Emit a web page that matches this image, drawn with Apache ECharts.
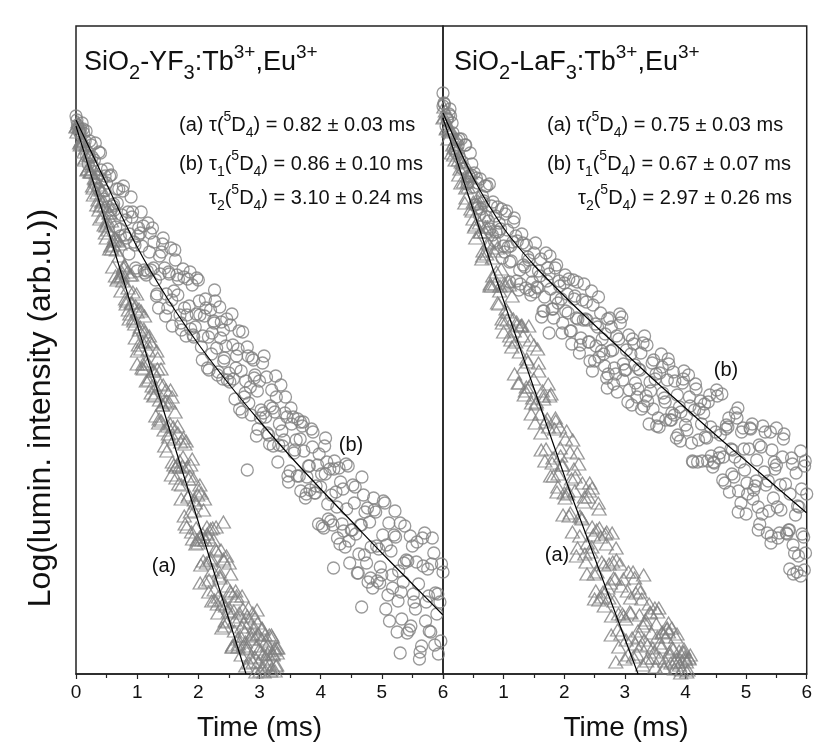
<!DOCTYPE html>
<html>
<head>
<meta charset="utf-8">
<script src="https://cdn.jsdelivr.net/npm/echarts@6/dist/echarts.min.js"></script>
<style>
html,body{margin:0;padding:0;background:#fff;}
#chart{width:815px;height:747px;}
</style>
</head>
<body>
<div id="chart"></div>
<script>
// ---------- DATA (time in ms, log10 luminescence intensity, arb. units) ----------
const xTicks = [0, 1, 2, 3, 4, 5, 6];

// Left panel: SiO2-YF3:Tb3+,Eu3+  — (b) circles
const leftB = [
[0,5.58],[0.05,5.43],[0.1,5.51],[0.15,5.33],[0.2,5.10],[0.25,5.29],[0.3,5.14],[0.35,4.97],[0.4,5.21],[0.45,4.75],
[0.5,4.91],[0.55,4.98],[0.6,4.68],[0.65,4.47],[0.7,4.85],[0.75,4.59],[0.8,4.39],[0.85,4.62],[0.9,4.77],[0.95,4.32],
[1,4.03],[1.05,4.41],[1.1,4.48],[1.15,3.99],[1.2,4.22],[1.25,4.46],[1.3,3.94],[1.35,3.66],[1.4,4.22],[1.45,4.06],
[1.5,3.66],[1.55,4.26],[1.6,3.83],[1.65,3.99],[1.7,3.59],[1.75,4.05],[1.8,3.38],[1.85,3.68],[1.9,3.89],[1.95,3.47],
[2,3.94],[2.05,3.27],[2.1,3.58],[2.15,3.06],[2.2,3.64],[2.25,3.53],[2.3,3.26],[2.35,3.67],[2.4,2.95],[2.45,3.28],
[2.5,3.01],[2.55,3.60],[2.6,2.75],[2.65,3.25],[2.7,3.03],[2.75,2.77],[2.8,3.27],[2.85,2.87],[2.9,3.14],[2.95,2.38],
[3,2.93],[3.05,3.11],[3.1,2.57],[3.15,2.39],[3.2,2.84],[3.25,2.62],[3.3,2.12],[3.35,2.89],[3.4,2.34],[3.45,2.57],
[3.5,2.03],[3.55,2.57],[3.6,2.34],[3.65,1.98],[3.7,2.48],[3.75,1.76],[3.8,2.08],[3.85,2.45],[3.9,1.81],[3.95,2.09],
[4,1.87],[4.05,1.46],[4.1,2.12],[4.15,2.05],[4.2,1.49],[4.25,1.82],[4.3,2.06],[4.35,1.50],[4.4,1.27],[4.45,2.08],
[4.5,1.44],[4.55,1.71],[4.6,1.01],[4.65,1.49],[4.7,1.79],[4.75,1.11],[4.8,1.52],[4.85,0.86],[4.9,1.62],[4.95,1.25],
[5,0.99],[5.05,1.71],[5.1,0.79],[5.15,1.23],[5.2,1.39],[5.25,0.42],[5.3,1.51],[5.35,0.92],[5.4,1.14],[5.45,0.44],
[5.5,1.28],[5.55,0.65],[5.6,0.90],[5.65,0.28],[5.7,1.41],[5.75,1.05],[5.8,0.42],[5.85,1.21],[5.9,0.60],[5.95,0.72],
[6,1.02],
[0.025,5.49],[0.075,5.45],[0.125,5.41],[0.175,5.18],[0.225,5.33],[0.275,5.08],[0.325,4.89],[0.375,5.22],[0.425,4.94],[0.475,4.98],
[0.525,4.67],[0.575,4.99],[0.625,4.64],[0.675,4.71],[0.725,4.38],[0.775,4.88],[0.825,4.36],[0.875,4.40],[0.925,4.62],[0.975,4.06],
[1.025,4.46],[1.075,4.28],[1.125,4.01],[1.175,4.51],[1.225,4.04],[1.275,4.32],[1.325,3.80],[1.375,4.00],[1.425,4.36],[1.475,3.80],
[1.525,4.00],[1.575,3.48],[1.625,4.14],[1.675,3.95],[1.725,3.44],[1.775,3.66],[1.825,3.95],[1.875,3.45],[1.925,3.37],[1.975,3.96],
[2.025,3.59],[2.075,3.38],[2.125,3.66],[2.175,3.04],[2.225,3.41],[2.275,3.73],[2.325,3.02],[2.375,3.52],[2.425,3.16],[2.475,2.94],
[2.525,3.49],[2.575,2.95],[2.625,3.18],[2.675,2.65],[2.725,3.42],[2.775,2.93],[2.825,2.71],[2.875,3.16],[2.925,2.99],[2.975,2.45],
[3.025,2.64],[3.075,3.18],[3.125,2.41],[3.175,2.68],[3.225,2.28],[3.275,2.77],[3.325,2.50],[3.375,2.28],[3.425,2.77],[3.475,1.92],
[3.525,2.50],[3.575,2.24],[3.625,2.55],[3.675,1.83],[3.725,2.23],[3.775,1.97],[3.825,1.84],[3.875,2.42],[3.925,1.88],[3.975,2.20],
[4.025,1.48],[4.075,2.00],[4.125,1.55],[4.175,1.79],[4.225,2.13],[4.275,1.36],[4.325,1.92],[4.375,1.43],[4.425,1.65],[4.475,1.11],
[4.525,1.89],[4.575,1.40],[4.625,1.20],[4.675,1.97],[4.725,1.62],[4.775,0.92],[4.825,1.27],[4.875,1.64],[4.925,0.93],[4.975,1.07],
[5.025,1.73],[5.075,1.29],[5.125,0.53],[5.175,0.86],[5.225,1.37],[5.275,1.03],[5.325,0.55],[5.375,1.48],[5.425,1.13],[5.475,0.48],
[5.525,0.72],[5.575,1.32],[5.625,0.22],[5.675,1.08],[5.725,0.72],[5.775,0.43],[5.825,1.36],[5.875,0.81],[5.925,0.20],[5.975,1.10],
[0.015,5.54],[0.065,5.41],[0.115,5.45],[0.165,5.43],[0.215,5.17],[0.265,5.17],[0.315,5.31],[0.365,4.85],[0.415,5.04],[0.465,4.83],
[0.515,5.05],[0.565,4.64],[0.615,4.70],[0.665,4.85],[0.715,4.45],[0.765,4.83],[0.815,4.54],[0.865,4.20],[0.915,4.57],[0.965,4.29],
[1.015,4.38],[1.065,4.62],[1.115,4.04],[1.165,4.03],[1.215,4.41],[1.265,4.06],[1.315,3.78],[1.365,4.18],[1.415,4.30],[1.465,3.58],
[1.515,4.02],[1.565,3.74],[1.615,4.24],[1.665,3.79],[1.715,3.51],[1.765,3.97],[1.815,3.59],[1.865,4.02],[1.915,3.39],[1.965,3.60],
[2.015,3.73],[2.065,3.14],[2.115,3.75],[2.165,3.37],[2.215,3.20],[2.265,3.84],[2.315,2.99],[2.365,3.36],[2.415,3.13],[2.465,3.55],
[2.515,2.92],[2.565,3.29],[2.615,3.06],[2.665,3.43],[2.715,2.62],[2.765,2.81],[2.815,3.18],[2.865,2.59],[2.915,2.96],[2.965,2.83],
[3.015,2.56],[3.065,2.61],[3.115,2.97],[3.165,2.30],[3.215,2.66],[3.265,2.98],[3.315,2.29],[3.365,2.43],[3.415,2.61],[3.465,1.98],
[3.515,2.66],[3.565,2.21],[3.615,1.98],[3.665,2.35],[3.715,2.52],[3.765,1.80],[3.815,2.08],[3.865,2.27],[3.915,1.81],[3.965,1.50],
[4.015,2.00],[4.065,2.28],[4.115,1.70],[4.165,1.53],[4.215,2.05],[4.265,1.67],[4.315,1.30],[4.365,1.85],[4.415,2.10],[4.465,1.33],
[4.515,1.44],[4.565,1.87],[4.615,1.01],[4.665,1.49],[4.715,1.19],[4.765,1.66],[4.815,0.96],[4.865,1.76],[4.915,1.28],[4.965,0.91],
[5.015,1.39],[5.065,0.65],[5.115,1.51],[5.165,0.99],[5.215,1.63],[5.265,0.73],[5.315,0.82],[5.365,1.11],[5.415,0.41],[5.465,1.38],
[5.515,0.80],[5.565,1.12],[5.615,0.15],[5.665,1.36],[5.715,0.53],[5.765,0.78],[5.815,1.10],[5.865,0.29],[5.915,0.80],[5.965,0.33],
[2.26,3.51],[2.41,3.44],[2.80,2.04],[3.67,2.52],[4.08,2.36],[4.21,1.06],[4.67,0.67],[5.30,0.21]
];

// Left panel — (a) triangles
const leftA = [
[0,5.47],[0.03,5.52],[0.06,5.31],[0.09,5.34],[0.12,5.33],[0.15,5.16],[0.18,5.04],[0.21,5.18],[0.24,5.02],[0.27,4.88],
[0.3,4.96],[0.33,5.01],[0.36,4.74],[0.39,4.55],[0.42,4.72],[0.45,4.73],[0.48,4.41],[0.51,4.51],[0.54,4.61],[0.57,4.28],
[0.6,4.07],[0.63,4.37],[0.66,4.24],[0.69,3.96],[0.72,4.30],[0.75,3.98],[0.78,4.06],[0.81,3.75],[0.84,4.02],[0.87,3.55],
[0.9,3.71],[0.93,3.82],[0.96,3.50],[0.99,3.80],[1.02,3.29],[1.05,3.47],[1.08,3.06],[1.11,3.45],[1.14,3.33],[1.17,3.10],
[1.2,3.38],[1.23,2.81],[1.26,3.03],[1.29,2.79],[1.32,3.23],[1.35,2.51],[1.38,2.90],[1.41,2.69],[1.44,2.44],[1.47,2.84],
[1.5,2.48],[1.53,2.71],[1.56,1.99],[1.59,2.47],[1.62,2.62],[1.65,2.09],[1.68,1.90],[1.71,2.32],[1.74,2.08],[1.77,1.58],
[1.8,2.33],[1.83,1.77],[1.86,1.98],[1.89,1.42],[1.92,1.95],[1.95,1.71],[1.98,1.34],[2.01,1.83],[2.04,1.09],[2.07,1.40],
[2.1,1.75],[2.13,1.11],[2.16,1.37],[2.19,1.14],[2.22,0.73],[2.25,1.34],[2.28,1.25],[2.31,0.70],[2.34,1.02],[2.37,1.24],
[2.4,0.70],[2.43,0.48],[2.46,1.18],[2.49,0.62],[2.52,0.83],[2.55,0.27],[2.58,0.63],[2.61,0.83],[2.64,0.35],[2.67,0.61],
[2.7,0.19],[2.73,0.65],[2.76,0.42],[2.79,0.26],[2.82,0.66],[2.85,0.16],[2.88,0.40],[2.91,0.47],[2.94,0.02],[2.97,0.51],
[3,0.25],[3.03,0.35],[3.06,0.07],[3.09,0.39],[3.12,0.15],[3.15,0.23],[3.18,0.03],[3.21,0.37],[3.24,0.24],[3.27,0.08],
[3.3,0.26],
[0.015,5.42],[0.045,5.47],[0.075,5.32],[0.105,5.30],[0.135,5.14],[0.165,5.29],[0.195,5.05],[0.225,5.02],[0.255,5.08],[0.285,4.79],
[0.315,4.93],[0.345,4.81],[0.375,4.64],[0.405,4.84],[0.435,4.57],[0.465,4.68],[0.495,4.36],[0.525,4.44],[0.555,4.61],[0.585,4.25],
[0.615,4.33],[0.645,3.98],[0.675,4.34],[0.705,4.18],[0.735,3.83],[0.765,3.93],[0.795,4.08],[0.825,3.73],[0.855,3.64],[0.885,3.99],
[0.915,3.71],[0.945,3.53],[0.975,3.68],[1.005,3.23],[1.035,3.44],[1.065,3.63],[1.095,3.10],[1.125,3.42],[1.155,3.13],[1.185,2.94],
[1.215,3.32],[1.245,2.88],[1.275,3.03],[1.305,2.58],[1.335,3.16],[1.365,2.74],[1.395,2.53],[1.425,2.89],[1.455,2.72],[1.485,2.23],
[1.515,2.37],[1.545,2.84],[1.575,2.12],[1.605,2.35],[1.635,1.96],[1.665,2.41],[1.695,2.13],[1.725,1.89],[1.755,2.36],[1.785,1.50],
[1.815,2.07],[1.845,1.79],[1.875,2.09],[1.905,1.35],[1.935,1.74],[1.965,1.46],[1.995,1.31],[2.025,1.89],[2.055,1.34],[2.085,1.64],
[2.115,0.92],[2.145,1.40],[2.175,0.94],[2.205,1.16],[2.235,1.46],[2.265,0.74],[2.295,1.23],[2.325,0.77],[2.355,0.96],[2.385,0.46],
[2.415,1.13],[2.445,0.68],[2.475,0.52],[2.505,1.11],[2.535,0.81],[2.565,0.29],[2.595,0.54],[2.625,0.78],[2.655,0.30],[2.685,0.38],
[2.715,0.78],[2.745,0.51],[2.775,0.08],[2.805,0.25],[2.835,0.52],[2.865,0.35],[2.895,0.12],[2.925,0.56],[2.955,0.39],[2.985,0.12],
[3.015,0.22],[3.045,0.45],[3.075,0.02],[3.105,0.33],[3.135,0.20],[3.165,0.10],[3.195,0.39],[3.225,0.20],[3.255,0.03],[3.285,0.26],
[0.01,5.48],[0.04,5.50],[0.07,5.29],[0.10,5.33],[0.13,5.22],[0.16,5.26],[0.19,5.05],[0.22,5.19],[0.25,5.02],[0.28,4.86],
[0.31,4.95],[0.34,4.69],[0.37,4.89],[0.40,4.68],[0.43,4.84],[0.46,4.49],[0.49,4.48],[0.52,4.53],[0.55,4.25],[0.58,4.53],
[0.61,4.29],[0.64,4.35],[0.67,3.94],[0.70,4.33],[0.73,3.97],[0.76,4.01],[0.79,4.09],[0.82,3.70],[0.85,3.86],[0.88,3.60],
[0.91,3.99],[0.94,3.56],[0.97,3.36],[1.00,3.62],[1.03,3.65],[1.06,3.25],[1.09,3.32],[1.12,3.58],[1.15,2.93],[1.18,3.24],
[1.21,2.97],[1.24,3.30],[1.27,2.78],[1.30,2.86],[1.33,3.05],[1.36,2.55],[1.39,3.05],[1.42,2.69],[1.45,2.28],[1.48,2.73],
[1.51,2.40],[1.54,2.50],[1.57,2.77],[1.60,2.09],[1.63,2.07],[1.66,2.48],[1.69,2.07],[1.72,1.75],[1.75,2.17],[1.78,2.30],
[1.81,1.47],[1.84,1.95],[1.87,1.62],[1.90,2.15],[1.93,1.63],[1.96,1.30],[1.99,1.79],[2.02,1.37],[2.05,1.81],[2.08,1.13],
[2.11,1.34],[2.14,1.47],[2.17,0.82],[2.20,1.45],[2.23,1.04],[2.26,0.84],[2.29,1.47],[2.32,0.61],[2.35,0.98],[2.38,0.74],
[2.41,1.15],[2.44,0.53],[2.47,0.88],[2.50,0.66],[2.53,1.00],[2.56,0.27],[2.59,0.43],[2.62,0.75],[2.65,0.27],[2.68,0.57],
[2.71,0.47],[2.74,0.28],[2.77,0.32],[2.80,0.58],[2.83,0.11],[2.86,0.38],[2.89,0.61],[2.92,0.17],[2.95,0.28],[2.98,0.40],
[3.01,0.03],[3.04,0.46],[3.07,0.20],[3.10,0.09],[3.13,0.29],[3.16,0.39],[3.19,0.05],[3.22,0.19],[3.25,0.26],[3.28,0.09],
[1.00,3.10],[1.10,3.05],[2.03,0.91],[2.96,0.64],[3.29,0.21],[2.41,1.52]
];

// Right panel: SiO2-LaF3:Tb3+,Eu3+ — (b) circles
const rightB = [
[0,5.68],[0.05,5.48],[0.1,5.60],[0.15,5.51],[0.2,5.23],[0.25,5.29],[0.3,5.35],[0.35,5.06],[0.4,4.90],[0.45,5.21],
[0.5,4.87],[0.55,4.96],[0.6,4.59],[0.65,4.78],[0.7,4.88],[0.75,4.53],[0.8,4.68],[0.85,4.33],[0.9,4.67],[0.95,4.45],
[1,4.28],[1.05,4.63],[1.1,4.12],[1.15,4.32],[1.2,4.38],[1.25,3.84],[1.3,4.40],[1.35,4.07],[1.4,4.17],[1.45,3.79],
[1.5,4.21],[1.55,3.87],[1.6,3.98],[1.65,3.63],[1.7,4.21],[1.75,4.00],[1.8,3.65],[1.85,4.06],[1.9,3.71],[1.95,3.75],
[2,3.91],[2.05,3.80],[2.1,3.43],[2.15,3.94],[2.2,3.56],[2.25,3.21],[2.3,3.74],[2.35,3.55],[2.4,3.32],[2.45,3.83],
[2.5,3.13],[2.55,3.47],[2.6,3.61],[2.65,3.20],[2.7,2.96],[2.75,3.56],[2.8,3.24],[2.85,3.00],[2.9,3.35],[2.95,3.57],
[3,3.04],[3.05,2.72],[3.1,3.20],[3.15,3.30],[3.2,2.77],[3.25,3.04],[3.3,3.31],[3.35,2.78],[3.4,2.50],[3.45,3.11],
[3.5,2.95],[3.55,2.56],[3.6,3.20],[3.65,2.76],[3.7,2.94],[3.75,2.54],[3.8,3.02],[3.85,2.36],[3.9,2.67],[3.95,2.91],
[4,2.49],[4.05,2.99],[4.1,2.31],[4.15,2.64],[4.2,2.12],[4.25,2.73],[4.3,2.61],[4.35,2.36],[4.4,2.79],[4.45,2.07],
[4.5,2.42],[4.55,2.16],[4.6,2.80],[4.65,1.91],[4.7,2.47],[4.75,2.25],[4.8,1.97],[4.85,2.56],[4.9,2.12],[4.95,2.46],
[5,1.60],[5.05,2.25],[5.1,2.50],[5.15,1.88],[5.2,1.67],[5.25,2.27],[5.3,2.02],[5.35,1.41],[5.4,2.42],[5.45,1.76],
[5.5,2.09],[5.55,1.41],[5.6,2.17],[5.65,1.90],[5.7,1.44],[5.75,2.16],[5.8,1.21],[5.85,1.68],[5.9,2.23],[5.95,1.37],
[6,1.80],
[0.025,5.70],[0.075,5.55],[0.125,5.58],[0.175,5.25],[0.225,5.34],[0.275,5.16],[0.325,5.05],[0.375,5.29],[0.425,4.98],[0.475,5.10],
[0.525,4.69],[0.575,4.91],[0.625,4.65],[0.675,4.73],[0.725,4.88],[0.775,4.45],[0.825,4.72],[0.875,4.42],[0.925,4.51],[0.975,4.16],
[1.025,4.60],[1.075,4.27],[1.125,4.13],[1.175,4.56],[1.225,4.33],[1.275,3.90],[1.325,4.09],[1.375,4.29],[1.425,3.84],[1.475,3.92],
[1.525,4.31],[1.575,4.03],[1.625,3.57],[1.675,3.77],[1.725,4.06],[1.775,3.85],[1.825,3.56],[1.875,4.09],[1.925,3.88],[1.975,3.51],
[2.025,3.63],[2.075,3.95],[2.125,3.30],[2.175,3.78],[2.225,3.55],[2.275,3.36],[2.325,3.90],[2.375,3.54],[2.425,3.13],[2.475,3.69],
[2.525,3.28],[2.575,3.17],[2.625,3.35],[2.675,3.40],[2.725,3.00],[2.775,3.47],[2.825,3.06],[2.875,2.82],[2.925,3.51],[2.975,3.10],
[3.025,3.24],[3.075,2.84],[3.125,3.35],[3.175,2.91],[3.225,3.05],[3.275,2.65],[3.325,3.38],[3.375,2.73],[3.425,2.83],[3.475,3.14],
[3.525,2.48],[3.575,3.01],[3.625,2.81],[3.675,2.54],[3.725,3.10],[3.775,2.61],[3.825,2.93],[3.875,2.39],[3.925,2.62],[3.975,3.03],
[4.025,2.44],[4.075,2.68],[4.125,2.12],[4.175,2.85],[4.225,2.65],[4.275,2.13],[4.325,2.37],[4.375,2.72],[4.425,2.18],[4.475,2.11],
[4.525,2.78],[4.575,2.39],[4.625,2.17],[4.675,2.49],[4.725,1.82],[4.775,2.24],[4.825,2.61],[4.875,1.83],[4.925,2.42],[4.975,2.04],
[5.025,1.80],[5.075,2.45],[5.125,1.84],[5.175,2.14],[5.225,1.50],[5.275,2.48],[5.325,1.89],[5.375,1.63],[5.425,2.24],[5.475,2.05],
[5.525,1.36],[5.575,1.64],[5.625,2.40],[5.675,1.40],[5.725,1.80],[5.775,1.29],[5.825,2.01],[5.875,1.67],[5.925,1.40],[5.975,2.13],
[0.015,5.71],[0.065,5.55],[0.115,5.65],[0.165,5.41],[0.215,5.21],[0.265,5.35],[0.315,5.12],[0.365,5.29],[0.415,4.92],[0.465,4.99],
[0.515,5.01],[0.565,4.66],[0.615,4.95],[0.665,4.71],[0.715,4.57],[0.765,4.90],[0.815,4.39],[0.865,4.58],[0.915,4.42],[0.965,4.65],
[1.015,4.22],[1.065,4.44],[1.115,4.28],[1.165,4.52],[1.215,3.93],[1.265,4.04],[1.315,4.31],[1.365,3.86],[1.415,4.14],[1.465,4.03],
[1.515,3.82],[1.565,3.86],[1.615,4.15],[1.665,3.63],[1.715,3.93],[1.765,4.18],[1.815,3.65],[1.865,3.76],[1.915,3.93],[1.965,3.41],
[2.015,3.99],[2.065,3.61],[2.115,3.43],[2.165,3.75],[2.215,3.92],[2.265,3.29],[2.315,3.54],[2.365,3.72],[2.415,3.32],[2.465,3.03],
[2.515,3.50],[2.565,3.77],[2.615,3.23],[2.665,3.08],[2.715,3.55],[2.765,3.23],[2.815,2.90],[2.865,3.38],[2.915,3.60],[2.965,2.94],
[3.015,3.04],[3.065,3.39],[3.115,2.69],[3.165,3.09],[3.215,2.85],[3.265,3.21],[3.315,2.68],[3.365,3.29],[3.415,2.92],[3.465,2.65],
[3.515,3.00],[3.565,2.47],[3.615,3.07],[3.665,2.72],[3.715,3.15],[3.765,2.54],[3.815,2.59],[3.865,2.79],[3.915,2.33],[3.965,2.95],
[4.015,2.58],[4.065,2.77],[4.115,2.13],[4.165,2.90],[4.215,2.34],[4.265,2.50],[4.315,2.70],[4.365,2.13],[4.415,2.47],[4.465,2.12],
[4.515,2.84],[4.565,2.21],[4.615,1.94],[4.665,2.45],[4.715,2.56],[4.765,2.00],[4.815,2.17],[4.865,2.66],[4.915,1.71],[4.965,2.25],
[5.015,1.91],[5.065,2.46],[5.115,1.75],[5.165,1.93],[5.215,2.29],[5.265,1.60],[5.315,2.42],[5.365,1.93],[5.415,1.38],[5.465,2.12],
[5.515,1.67],[5.565,1.89],[5.615,2.35],[5.665,1.41],[5.715,1.44],[5.765,2.10],[5.815,1.59],[5.865,1.18],[5.915,1.85],[5.965,2.08],
[0,5.81],[1.10,3.92],[1.75,3.41],[2.71,2.86],[4.87,1.62],[5.50,2.46],[5.20,1.44],[5.41,1.31],
[5.72,1.05],[5.78,1.00],[5.84,1.02],[5.90,0.98],[5.96,1.04],[5.98,1.21]
];

// Right panel — (a) triangles
const rightA = [
[0,5.56],[0.04,5.63],[0.08,5.35],[0.12,5.42],[0.16,5.29],[0.2,5.14],[0.24,5.26],[0.28,5.05],[0.32,5.11],[0.36,4.71],
[0.4,4.92],[0.44,4.98],[0.48,4.63],[0.52,4.47],[0.56,4.70],[0.6,4.51],[0.64,4.15],[0.68,4.59],[0.72,4.20],[0.76,4.30],
[0.8,3.88],[0.84,4.23],[0.88,4.02],[0.92,3.70],[0.96,4.05],[1,3.42],[1.04,3.65],[1.08,3.93],[1.12,3.34],[1.16,3.55],
[1.2,3.32],[1.24,2.91],[1.28,3.48],[1.32,3.38],[1.36,2.83],[1.4,3.12],[1.44,3.34],[1.48,2.76],[1.52,2.51],[1.56,3.25],
[1.6,2.60],[1.64,2.83],[1.68,2.13],[1.72,2.55],[1.76,2.78],[1.8,2.11],[1.84,2.45],[1.88,1.82],[1.92,2.47],[1.96,2.09],
[2,1.81],[2.04,2.43],[2.08,1.58],[2.12,1.95],[2.16,2.05],[2.2,1.18],[2.24,2.10],[2.28,1.56],[2.32,1.72],[2.36,1.12],
[2.4,1.77],[2.44,1.22],[2.48,1.39],[2.52,0.83],[2.56,1.71],[2.6,1.37],[2.64,0.82],[2.68,1.40],[2.72,0.86],[2.76,0.91],
[2.8,1.12],[2.84,0.95],[2.88,0.44],[2.92,1.10],[2.96,0.60],[3,0.15],[3.04,0.83],[3.08,0.62],[3.12,0.36],[3.16,0.96],
[3.2,0.20],[3.24,0.59],[3.28,0.75],[3.32,0.34],[3.36,0.13],[3.4,0.70],[3.44,0.41],[3.48,0.22],[3.52,0.50],[3.56,0.66],
[3.6,0.27],[3.64,0.06],[3.68,0.37],[3.72,0.42],[3.76,0.11],[3.8,0.25],[3.84,0.37],[3.88,0.12],[3.92,0.01],[3.96,0.22],
[4,0.15],[4.04,0.04],[4.08,0.19],
[0.02,5.57],[0.06,5.46],[0.10,5.46],[0.14,5.21],[0.18,5.26],[0.22,5.31],[0.26,4.99],[0.30,5.12],[0.34,4.92],[0.38,4.76],
[0.42,4.98],[0.46,4.65],[0.50,4.72],[0.54,4.36],[0.58,4.77],[0.62,4.42],[0.66,4.23],[0.70,4.47],[0.74,4.31],[0.78,3.90],
[0.82,3.98],[0.86,4.32],[0.90,3.71],[0.94,3.88],[0.98,3.51],[1.02,3.88],[1.06,3.62],[1.10,3.38],[1.14,3.78],[1.18,3.00],
[1.22,3.49],[1.26,3.22],[1.30,3.49],[1.34,2.79],[1.38,3.15],[1.42,2.87],[1.46,2.71],[1.50,3.29],[1.54,2.72],[1.58,3.03],
[1.62,2.24],[1.66,2.75],[1.70,2.25],[1.74,2.47],[1.78,2.80],[1.82,1.98],[1.86,2.53],[1.90,2.00],[1.94,2.18],[1.98,1.59],
[2.02,2.35],[2.06,1.83],[2.10,1.61],[2.14,2.34],[2.18,1.97],[2.22,1.26],[2.26,1.58],[2.30,1.91],[2.34,1.20],[2.38,1.31],
[2.42,1.91],[2.46,1.47],[2.50,0.75],[2.54,1.02],[2.58,1.46],[2.62,1.12],[2.66,0.68],[2.70,1.42],[2.74,1.10],[2.78,0.58],
[2.82,0.73],[2.86,1.14],[2.90,0.27],[2.94,0.88],[2.98,0.58],[3.02,0.34],[3.06,1.02],[3.10,0.61],[3.14,0.17],[3.18,0.81],
[3.22,0.37],[3.26,0.28],[3.30,0.48],[3.34,0.54],[3.38,0.16],[3.42,0.61],[3.46,0.26],[3.50,0.07],[3.54,0.62],[3.58,0.31],
[3.62,0.41],[3.66,0.13],[3.70,0.46],[3.74,0.19],[3.78,0.26],[3.82,0.05],[3.86,0.40],[3.90,0.09],[3.94,0.13],[3.98,0.22],
[4.02,0.02],[4.06,0.15],
[0.015,5.67],[0.055,5.45],[0.095,5.43],[0.135,5.44],[0.175,5.19],[0.215,5.35],[0.255,5.14],[0.295,4.91],[0.335,5.07],[0.375,4.86],
[0.415,4.87],[0.455,5.01],[0.495,4.55],[0.535,4.49],[0.575,4.73],[0.615,4.42],[0.655,4.18],[0.695,4.42],[0.735,4.47],[0.775,3.88],
[0.815,4.16],[0.855,3.90],[0.895,4.26],[0.935,3.83],[0.975,3.55],[1.015,3.91],[1.055,3.54],[1.095,3.89],[1.135,3.27],[1.175,3.43],
[1.215,3.52],[1.255,2.91],[1.295,3.48],[1.335,3.07],[1.375,2.87],[1.415,3.48],[1.455,2.60],[1.495,2.95],[1.535,2.70],[1.575,3.11],
[1.615,2.41],[1.655,2.78],[1.695,2.52],[1.735,2.90],[1.775,1.98],[1.815,2.16],[1.855,2.56],[1.895,1.87],[1.935,2.26],[1.975,2.09],
[2.015,1.76],[2.055,1.80],[2.095,2.22],[2.135,1.42],[2.175,1.83],[2.215,2.21],[2.255,1.38],[2.295,1.55],[2.335,1.77],[2.375,1.00],
[2.415,1.83],[2.455,1.27],[2.495,1.00],[2.535,1.44],[2.575,1.65],[2.615,0.77],[2.655,1.09],[2.695,1.30],[2.735,0.76],[2.775,0.39],
[2.815,0.96],[2.855,1.26],[2.895,0.60],[2.935,0.40],[2.975,0.95],[3.015,0.55],[3.055,0.19],[3.095,0.76],[3.135,1.02],[3.175,0.30],
[3.215,0.43],[3.255,0.82],[3.295,0.09],[3.335,0.51],[3.375,0.29],[3.415,0.62],[3.455,0.16],[3.495,0.66],[3.535,0.37],[3.575,0.16],
[3.615,0.42],[3.655,0.06],[3.695,0.45],[3.735,0.22],[3.775,0.46],[3.815,0.12],[3.855,0.15],[3.895,0.23],[3.935,0.04],[3.975,0.25],
[4.015,0.12],[4.055,0.16],
[3.31,0.99],[3.23,0.86],[3.72,0.51],[3.99,0.17],[2.85,0.12],[2.57,0.74],[2.46,1.86],[2.79,1.41]
];

// Fitted decay curves
const fitLeftA  = [[0,5.48],[0.724,4.04],[1.733,2.04],[2.78,0]];
const fitLeftB  = [[0,5.54],[0.5,4.90],[1,4.27],[1.5,3.75],[2,3.30],[2.5,2.90],[3,2.53],[3.5,2.18],[4,1.85],[4.5,1.53],[5,1.21],[5.5,0.90],[6,0.59]];
const fitRightA = [[0,5.56],[0.716,4.24],[1.098,3.56],[1.946,2.08],[2.11,1.80],[3.218,0]];
const fitRightB = [[0,5.61],[0.5,4.96],[1,4.46],[1.5,4.09],[2,3.78],[2.5,3.49],[3,3.21],[3.5,2.93],[4,2.66],[4.5,2.39],[5,2.13],[5.5,1.87],[6,1.61]];

// ---------- CHART ----------
const FONT = '"Liberation Sans", Arial, sans-serif';
const TXT = '#111';
const MARK = '#808080';

const chart = echarts.init(document.getElementById('chart'), null, {renderer: 'canvas'});

function xAx(i) {
  return {
    type: 'value', gridIndex: i, min: xTicks[0], max: xTicks[xTicks.length - 1], interval: 1,
    axisLine: {show: true, onZero: false, lineStyle: {color: '#222', width: 1.5}},
    axisTick: {show: true, length: 5, lineStyle: {color: '#222', width: 1.2}},
    minorTick: {show: true, splitNumber: 2, length: 4, lineStyle: {color: '#222', width: 1.2}},
    axisLabel: {show: true, fontSize: 19, color: TXT, margin: 9, fontFamily: FONT, showMinLabel: i === 0},
    splitLine: {show: false}, minorSplitLine: {show: false}
  };
}
function yAx(i) {
  return {type: 'value', gridIndex: i, min: 0, max: 6.48, show: false, splitLine: {show: false}};
}
function circles(data, i) {
  return {type: 'scatter', xAxisIndex: i, yAxisIndex: i, data: data, symbol: 'circle', symbolSize: 12,
    itemStyle: {color: 'rgba(255,255,255,0)', borderColor: MARK, borderWidth: 1.3}, z: 2, silent: true};
}
function triangles(data, i) {
  return {type: 'scatter', xAxisIndex: i, yAxisIndex: i, data: data, symbol: 'triangle', symbolSize: [14, 12],
    itemStyle: {color: 'rgba(255,255,255,0)', borderColor: MARK, borderWidth: 1.3}, z: 2, silent: true};
}
function fit(data, i, smooth) {
  return {type: 'line', xAxisIndex: i, yAxisIndex: i, data: data, symbol: 'none', showSymbol: false,
    smooth: smooth, lineStyle: {color: '#000', width: 1.2}, z: 5, silent: true};
}

const richTitle = {
  m: {fontSize: 27, lineHeight: 40, fontFamily: FONT, fill: TXT, color: TXT},
  b: {fontSize: 20, lineHeight: 17, verticalAlign: 'bottom', fontFamily: FONT, fill: TXT, color: TXT},
  p: {fontSize: 19, lineHeight: 30, verticalAlign: 'top', fontFamily: FONT, fill: TXT, color: TXT}
};
const richAnn = {
  m: {fontSize: 20, lineHeight: 30, fontFamily: FONT, fill: TXT, color: TXT},
  b: {fontSize: 14, lineHeight: 16, verticalAlign: 'bottom', fontFamily: FONT, fill: TXT, color: TXT},
  p: {fontSize: 14, lineHeight: 18, verticalAlign: 'top', fontFamily: FONT, fill: TXT, color: TXT}
};
function rt(x, y, text, rich, align) {
  return {type: 'text', x: x, y: y, z: 10, silent: true,
    style: {text: text, rich: rich, align: align || 'left', verticalAlign: 'top', fill: TXT}};
}
function plain(x, y, text, size, rot) {
  return {type: 'text', x: x, y: y, rotation: rot || 0, z: 10, silent: true,
    style: {text: text, fontSize: size, fontFamily: FONT, fill: TXT, align: 'center', verticalAlign: 'middle'}};
}

const graphics = [
  rt(84, 43, '{m|SiO}{b|2}{m|-YF}{b|3}{m|:Tb}{p|3+}{m|,Eu}{p|3+}', richTitle),
  rt(454, 43, '{m|SiO}{b|2}{m|-LaF}{b|3}{m|:Tb}{p|3+}{m|,Eu}{p|3+}', richTitle),

  rt(179, 110, '{m|(a) τ(}{p|5}{m|D}{b|4}{m|) = 0.82 ± 0.03 ms}', richAnn),
  rt(179, 149, '{m|(b) τ}{b|1}{m|(}{p|5}{m|D}{b|4}{m|) = 0.86 ± 0.10 ms}', richAnn),
  rt(209, 183, '{m|τ}{b|2}{m|(}{p|5}{m|D}{b|4}{m|) = 3.10 ± 0.24 ms}', richAnn),

  rt(547, 110, '{m|(a) τ(}{p|5}{m|D}{b|4}{m|) = 0.75 ± 0.03 ms}', richAnn),
  rt(547, 149, '{m|(b) τ}{b|1}{m|(}{p|5}{m|D}{b|4}{m|) = 0.67 ± 0.07 ms}', richAnn),
  rt(578, 183, '{m|τ}{b|2}{m|(}{p|5}{m|D}{b|4}{m|) = 2.97 ± 0.26 ms}', richAnn),

  plain(351, 445, '(b)', 20),
  plain(164, 566, '(a)', 20),
  plain(726, 370, '(b)', 20),
  plain(557, 555, '(a)', 20),

  plain(259.5, 728, 'Time (ms)', 28),
  plain(626, 728, 'Time (ms)', 28),
  plain(41, 408, 'Log(lumin. intensity (arb.u.))', 32, Math.PI / 2)
];

const option = {
  backgroundColor: '#ffffff',
  animation: false,
  grid: [
    {left: 76, top: 26, width: 367, height: 648, show: true, borderColor: '#222', borderWidth: 1.5, backgroundColor: 'rgba(0,0,0,0)'},
    {left: 443, top: 26, width: 366, height: 648, show: true, borderColor: '#222', borderWidth: 1.5, backgroundColor: 'rgba(0,0,0,0)'}
  ],
  xAxis: [xAx(0), xAx(1)],
  yAxis: [yAx(0), yAx(1)],
  series: [
    circles(leftB, 0), triangles(leftA, 0), fit(fitLeftA, 0, false), fit(fitLeftB, 0, 0.3),
    circles(rightB, 1), triangles(rightA, 1), fit(fitRightA, 1, 0.3), fit(fitRightB, 1, 0.3)
  ],
  graphic: graphics
};
chart.setOption(option);
</script>
</body>
</html>
